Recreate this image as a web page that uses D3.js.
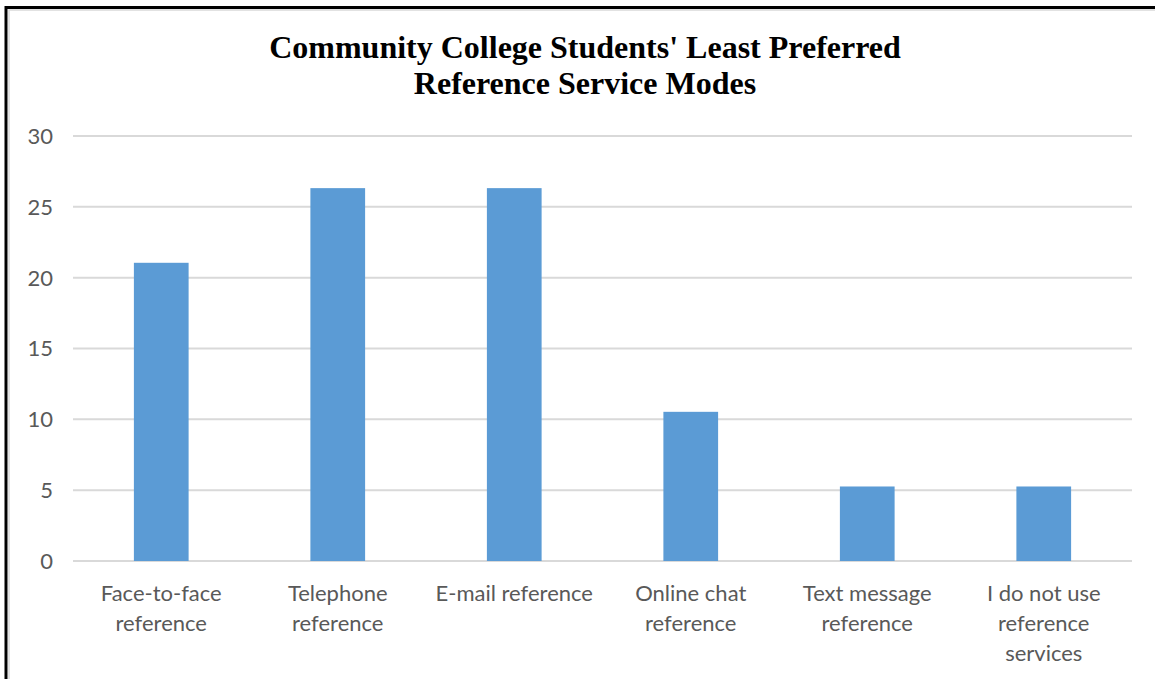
<!DOCTYPE html>
<html>
<head>
<meta charset="utf-8">
<script src="https://cdn.jsdelivr.net/npm/d3@7"></script>
<style>
  html, body { margin: 0; padding: 0; background: #fff; }
  svg { display: block; }
</style>
</head>
<body>
<svg id="chart" width="1155" height="679"></svg>
<script>
const categories = [
  ["Face-to-face", "reference"],
  ["Telephone", "reference"],
  ["E-mail reference"],
  ["Online chat", "reference"],
  ["Text message", "reference"],
  ["I do not use", "reference", "services"]
];
const values = [21.05, 26.32, 26.32, 10.53, 5.26, 5.26];
const yTicks = [0, 5, 10, 15, 20, 25, 30];
const titleLines = ["Community College Students' Least Preferred", "Reference Service Modes"];

(function () {
const svg = d3.select("#chart");
const W = 1155, H = 679;

// frame
svg.append("rect").attr("x", 0).attr("y", 0).attr("width", W).attr("height", H).attr("fill", "#fff");
svg.append("rect").attr("x", 9).attr("y", 10).attr("width", W + 20).attr("height", H + 20)
  .attr("fill", "none").attr("stroke", "#d9d9d9").attr("stroke-width", 1.5);
svg.append("rect").attr("x", 6).attr("y", 7.5).attr("width", W + 20).attr("height", H + 20)
  .attr("fill", "none").attr("stroke", "#000").attr("stroke-width", 3);

const pLeft = 73, pRight = 1132, pTop = 136, pBottom = 561;

const x = d3.scaleBand().domain(d3.range(categories.length)).range([pLeft, pRight]).padding(0);
const y = d3.scaleLinear().domain([0, 30]).range([pBottom, pTop]);

// gridlines
svg.append("g").selectAll("line").data(yTicks).join("line")
  .attr("x1", pLeft).attr("x2", pRight)
  .attr("y1", d => y(d)).attr("y2", d => y(d))
  .attr("stroke", "#d9d9d9").attr("stroke-width", 2);

// y labels
svg.append("g").selectAll("text").data(yTicks).join("text")
  .attr("x", 53).attr("y", d => y(d))
  .attr("dy", "0.36em")
  .attr("text-anchor", "end")
  .attr("font-family", "Lato, 'Open Sans', sans-serif")
  .attr("font-size", 22)
  .attr("fill", "#595959")
  .text(d => d);

// bars
const bw = x.bandwidth() * 0.31;
svg.append("g").selectAll("rect").data(values).join("rect")
  .attr("x", (d, i) => x(i) + x.bandwidth() / 2 - bw / 2)
  .attr("width", bw)
  .attr("y", d => y(d))
  .attr("height", d => y(0) - y(d))
  .attr("fill", "#5b9bd5");

// x labels
const xl = svg.append("g").selectAll("text").data(categories).join("text")
  .attr("x", (d, i) => x(i) + x.bandwidth() / 2)
  .attr("y", 601)
  .attr("text-anchor", "middle")
  .attr("font-family", "Lato, 'Open Sans', sans-serif")
  .attr("font-size", 22)
  .attr("fill", "#595959");
xl.each(function(d, i) {
  const t = d3.select(this);
  d.forEach((line, j) => {
    t.append("tspan").attr("x", x(i) + x.bandwidth() / 2).attr("y", 601 + j * 30).text(line);
  });
});

// title
svg.append("g").selectAll("text").data(titleLines).join("text")
  .attr("x", 585).attr("y", (d, i) => 58 + i * 36)
  .attr("text-anchor", "middle")
  .attr("font-family", "'Liberation Serif', 'Times New Roman', serif")
  .attr("font-weight", "bold")
  .attr("font-size", 32)
  .attr("fill", "#000")
  .text(d => d);
})();
</script>
</body>
</html>
